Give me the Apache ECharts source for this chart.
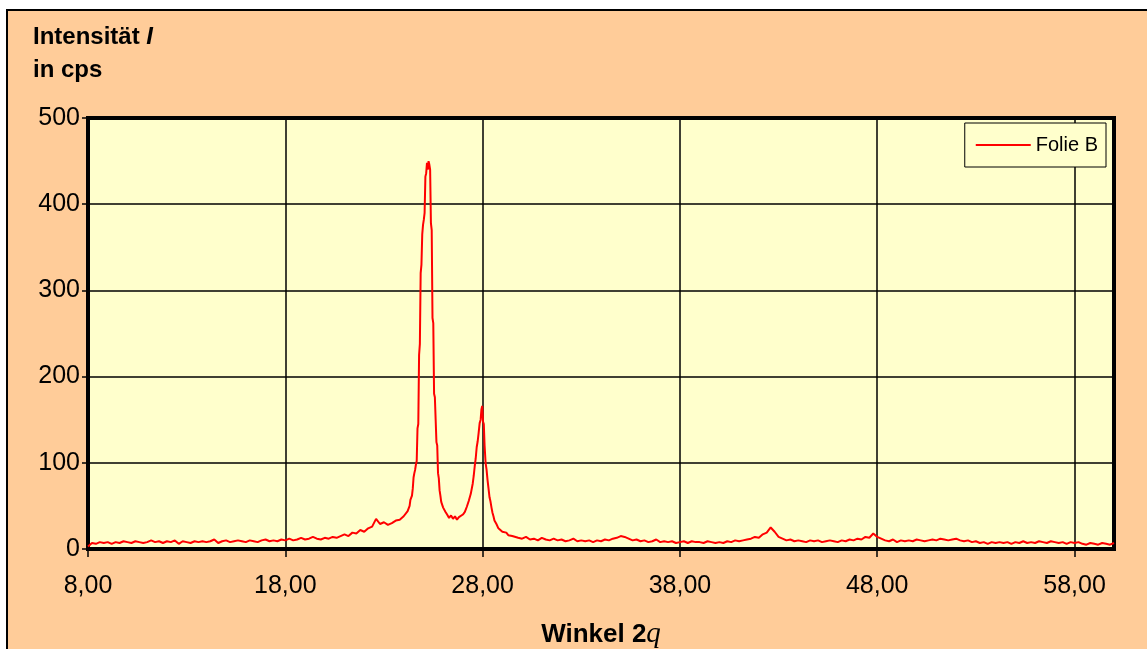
<!DOCTYPE html>
<html>
<head>
<meta charset="utf-8">
<script src="https://cdn.jsdelivr.net/npm/echarts@6/dist/echarts.min.js"></script>
<style>
  html, body { margin: 0; padding: 0; background: #fff; }
  #main { width: 1147px; height: 649px; }
</style>
</head>
<body>
<div id="main"></div>
<script>
// Winkel 2theta (deg) and Intensität (cps)
var angles = [
  8.0, 8.2, 8.4, 8.6, 8.8, 9.0, 9.2, 9.4, 9.6, 9.8,
  10.0, 10.2, 10.4, 10.6, 10.8, 11.0, 11.2, 11.4, 11.6, 11.8,
  12.0, 12.2, 12.4, 12.6, 12.8, 13.0, 13.2, 13.4, 13.6, 13.8,
  14.0, 14.2, 14.4, 14.6, 14.8, 15.0, 15.2, 15.4, 15.6, 15.8,
  16.0, 16.2, 16.4, 16.6, 16.8, 17.0, 17.2, 17.4, 17.6, 17.8,
  18.0, 18.2, 18.4, 18.6, 18.8, 19.0, 19.2, 19.4, 19.6, 19.8,
  20.0, 20.2, 20.4, 20.6, 20.8, 21.0, 21.2, 21.4, 21.6, 21.8,
  22.0, 22.2, 22.4, 22.6, 22.8, 23.0, 23.2, 23.4, 23.6, 23.8,
  24.0, 24.2,
  24.30, 24.34, 24.38, 24.42, 24.46, 24.50, 24.54, 24.58, 24.62, 24.66,
  24.70, 24.74, 24.78, 24.82, 24.86, 24.90, 24.94, 24.98, 25.02, 25.06,
  25.10, 25.14, 25.18, 25.22, 25.26, 25.30, 25.34, 25.38, 25.42, 25.46,
  25.50, 25.54, 25.58, 25.62, 25.66, 25.70, 25.74, 25.78, 25.82, 25.86,
  25.90, 25.94, 26.00, 26.06, 26.12,
  26.2, 26.3, 26.4, 26.5, 26.6, 26.7, 26.8, 26.9, 27.0, 27.1,
  27.2, 27.3, 27.4, 27.5,
  27.55, 27.60, 27.65, 27.70, 27.75, 27.80, 27.85, 27.90, 27.94, 27.98,
  28.02, 28.06, 28.10, 28.15, 28.20, 28.25, 28.30, 28.35, 28.40, 28.45,
  28.50, 28.55, 28.60, 28.70, 28.80, 28.90, 29.00, 29.10, 29.20, 29.30,
  29.40, 29.50, 29.60, 29.80,
  30.0, 30.2, 30.4, 30.6, 30.8, 31.0, 31.2, 31.4, 31.6, 31.8,
  32.0, 32.2, 32.4, 32.6, 32.8, 33.0, 33.2, 33.4, 33.6, 33.8,
  34.0, 34.2, 34.4, 34.6, 34.8, 35.0, 35.2, 35.4, 35.6, 35.8,
  36.0, 36.2, 36.4, 36.6, 36.8, 37.0, 37.2, 37.4, 37.6, 37.8,
  38.0, 38.2, 38.4, 38.6, 38.8, 39.0, 39.2, 39.4, 39.6, 39.8,
  40.0, 40.2, 40.4, 40.6, 40.8, 41.0, 41.2, 41.4, 41.6, 41.8,
  42.0, 42.2, 42.4, 42.6, 42.8, 43.0, 43.2, 43.4, 43.6, 43.8,
  44.0, 44.2, 44.4, 44.6, 44.8, 45.0, 45.2, 45.4, 45.6, 45.8,
  46.0, 46.2, 46.4, 46.6, 46.8, 47.0, 47.2, 47.4, 47.6, 47.8,
  48.0, 48.2, 48.4, 48.6, 48.8, 49.0, 49.2, 49.4, 49.6, 49.8,
  50.0, 50.2, 50.4, 50.6, 50.8, 51.0, 51.2, 51.4, 51.6, 51.8,
  52.0, 52.2, 52.4, 52.6, 52.8, 53.0, 53.2, 53.4, 53.6, 53.8,
  54.0, 54.2, 54.4, 54.6, 54.8, 55.0, 55.2, 55.4, 55.6, 55.8,
  56.0, 56.2, 56.4, 56.6, 56.8, 57.0, 57.2, 57.4, 57.6, 57.8,
  58.0, 58.2, 58.4, 58.6, 58.8, 59.0, 59.2, 59.4, 59.6, 59.8,
  60.0
];

var folieB = [
  3, 7, 6, 8, 7, 8, 6, 8, 7, 9,
  8, 7, 9, 8, 7, 8, 10, 8, 9, 7,
  9, 8, 10, 6, 9, 8, 7, 9, 8, 9,
  8, 9, 11, 7, 9, 10, 8, 9, 10, 9,
  8, 10, 9, 8, 10, 11, 9, 10, 9, 11,
  10, 12, 10, 11, 13, 11, 12, 14, 12, 11,
  13, 12, 14, 13, 15, 17, 15, 19, 18, 22,
  20, 24, 26, 35, 29, 31, 28, 30, 33, 34,
  38, 44,
  50, 57, 58, 62, 70, 83, 88, 92, 98, 102,
  140, 145, 225, 238, 320, 330, 365, 376, 382, 390,
  432, 436, 448, 440, 450, 446, 440, 378, 370, 268,
  262, 180, 176, 150, 124, 120, 88, 82, 68, 62,
  55, 52, 48, 46, 43,
  40, 36, 39, 35, 38, 34, 37, 36, 40, 43,
  49, 56, 64, 76,
  85, 96, 105, 118, 125, 135, 146, 150, 162, 166,
  148, 145, 120, 100, 92, 80, 70, 60, 55, 48,
  42, 38, 33, 29, 24, 22, 20, 18, 19, 16,
  17, 15, 14, 13,
  12, 14, 11, 12, 10, 13, 11, 10, 12, 10,
  11, 9, 10, 12, 9, 10, 9, 10, 8, 10,
  9, 11, 10, 12, 13, 15, 14, 12, 10, 11,
  9, 10, 8, 9, 11, 8, 9, 8, 9, 7,
  8, 9, 7, 9, 8, 8, 7, 9, 8, 7,
  8, 7, 9, 8, 10, 9, 10, 11, 12, 14,
  13, 17, 19, 25, 20, 14, 12, 10, 11, 9,
  10, 9, 8, 10, 9, 10, 8, 9, 10, 9,
  8, 10, 9, 11, 10, 12, 11, 14, 13, 18,
  14, 12, 10, 9, 11, 8, 10, 9, 10, 9,
  11, 10, 9, 10, 11, 10, 12, 11, 10, 11,
  12, 10, 9, 10, 8, 9, 7, 8, 6, 8,
  7, 8, 7, 8, 6, 8, 7, 9, 7, 8,
  7, 9, 8, 7, 9, 8, 7, 8, 6, 8,
  7, 8, 6, 5, 7, 6, 5, 7, 6, 5,
  7
];

var xTicks = [8, 18, 28, 38, 48, 58];
var yTicks = [0, 100, 200, 300, 400, 500];

var chart = echarts.init(document.getElementById('main'), null, { renderer: 'canvas' });

var points = angles.map(function (a, i) { return [a, folieB[i]]; });

var option = {
  backgroundColor: '#ffffff',
  animation: false,
  textStyle: { fontFamily: 'Liberation Sans, Arial, sans-serif', color: '#000' },
  graphic: [
    {
      type: 'rect',
      z: -100,
      silent: true,
      shape: { x: 7, y: 10, width: 1160, height: 660 },
      style: { fill: '#FFCC99', stroke: '#000', lineWidth: 2 }
    },
    {
      type: 'text',
      left: 33,
      top: 25,
      style: {
        text: '{a|Intensität }{b|I}',
        rich: {
          a: { fontFamily: 'Liberation Sans', fontWeight: 'bold', fontSize: 24, fill: '#000' },
          b: { fontFamily: 'Liberation Sans', fontWeight: 'bold', fontStyle: 'italic', fontSize: 24, fill: '#000' }
        }
      }
    },
    {
      type: 'text',
      left: 33,
      top: 58,
      style: {
        text: 'in cps',
        font: 'bold 24px "Liberation Sans"',
        fill: '#000'
      }
    }
  ],
  grid: {
    show: true,
    left: 88,
    right: 33,
    top: 118,
    bottom: 100,
    outerBoundsMode: 'none',
    containLabel: false,
    backgroundColor: '#FFFFCC',
    borderColor: '#000',
    borderWidth: 4
  },
  legend: {
    right: 41,
    top: 123,
    orient: 'vertical',
    backgroundColor: '#FFFFCC',
    borderColor: '#000',
    borderWidth: 1,
    padding: [12, 8, 12, 10],
    itemWidth: 55,
    itemHeight: 14,
    itemGap: 4,
    itemStyle: { opacity: 0 },
    lineStyle: { color: '#FF0000', width: 2 },
    textStyle: { fontSize: 20, fontFamily: 'Liberation Sans', color: '#000' },
    data: ['Folie B']
  },
  xAxis: {
    type: 'value',
    min: xTicks[0],
    max: 60,
    interval: 10,
    name: '{w|Winkel 2}{q|q}',
    nameLocation: 'middle',
    nameGap: 71,
    nameTextStyle: {
      rich: {
        w: { fontFamily: 'Liberation Sans', fontWeight: 'bold', fontSize: 26, color: '#000' },
        q: { fontFamily: 'Liberation Serif', fontStyle: 'italic', fontSize: 29, color: '#000' }
      }
    },
    axisLine: { show: true, onZero: false, lineStyle: { color: '#000', width: 4 } },
    axisTick: { show: true, length: 8, lineStyle: { color: '#000', width: 1.5 } },
    axisLabel: {
      fontSize: 25,
      color: '#000',
      margin: 25,
      showMaxLabel: false,
      formatter: function (v) { return v.toFixed(2).replace('.', ','); }
    },
    splitLine: { show: true, lineStyle: { color: '#000', width: 1.5 } }
  },
  yAxis: {
    type: 'value',
    min: yTicks[0],
    max: yTicks[yTicks.length - 1],
    interval: 100,
    axisLine: { show: true, lineStyle: { color: '#000', width: 4 } },
    axisTick: { show: true, length: 6, lineStyle: { color: '#000', width: 1.5 } },
    axisLabel: { fontSize: 25, color: '#000', margin: 8 },
    splitLine: { show: true, lineStyle: { color: '#000', width: 1.5 } }
  },
  series: [{
    name: 'Folie B',
    type: 'line',
    data: points,
    symbol: 'none',
    lineStyle: { color: '#FF0000', width: 2 },
    itemStyle: { color: '#FF0000' }
  }]
};

chart.setOption(option);
</script>
</body>
</html>
